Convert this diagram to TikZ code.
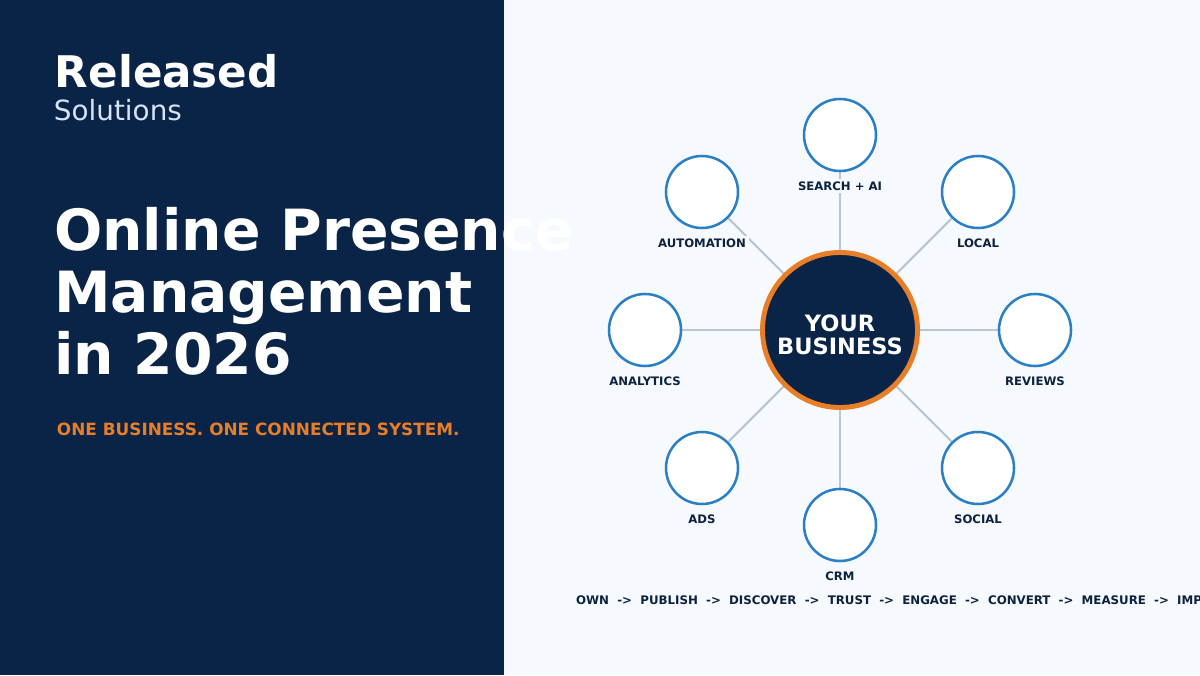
\documentclass[tikz,border=0pt]{standalone}
\usepackage{fontspec}
\setmainfont{DejaVu Sans}
\usepackage{tikz}
\usetikzlibrary{positioning, backgrounds}
\definecolor{navy}{RGB}{10, 36, 71}
\definecolor{orng}{RGB}{232, 126, 40}
\definecolor{ring}{RGB}{43, 127, 196}
\definecolor{spk}{RGB}{184, 199, 214}
\definecolor{page}{RGB}{246, 249, 253}
\definecolor{pale}{RGB}{214, 228, 243}
\definecolor{ink}{RGB}{13, 34, 61}
\newcommand{\flowto}{\ \ ->\ \ }

\begin{document}
\begin{tikzpicture}[
    sat/.style={circle, draw=ring, fill=white, line width=1.8pt,
      minimum size=1.8cm, inner sep=0pt},
    lbl/.style={font=\fontsize{8.3}{10}\selectfont\bfseries, text=ink,
      fill=page, inner sep=2pt},
    spoke/.style={spk, line width=1.5pt},
    hubnode/.style={circle, draw=orng, fill=navy, line width=3.5pt,
      minimum size=3.875cm, inner sep=0pt},
    hubtxt/.style={align=center, text=white, inner sep=0pt,
      font=\fontsize{16}{17}\selectfont\bfseries}
  ]
  \path[use as bounding box, clip] (0, 0) rectangle (30, 16.875);

  \node[anchor=base west, text=white, font=\fontsize{31}{34}\selectfont\bfseries]
    (brand) at (1.25, 14.675) {Released};
  \node[anchor=base west, text=pale, font=\fontsize{19.8}{22}\selectfont]
    (brandsub) at (1.225, 13.85) {Solutions};

  \node[anchor=base west, text=white, font=\fontsize{40.4}{44}\selectfont\bfseries]
    (title1) at (1.23, 10.625) {Online Presence};
  \node[anchor=base west, text=white, font=\fontsize{40.4}{44}\selectfont\bfseries]
    (title2) at (1.23, 9.075) {Management};
  \node[anchor=base west, text=white, font=\fontsize{40.4}{44}\selectfont\bfseries]
    (title3) at (1.23, 7.525) {in 2026};
  \node[anchor=base west, text=orng, font=\fontsize{12}{14}\selectfont\bfseries]
    (tag) at (1.3, 6.0) {ONE BUSINESS. ONE CONNECTED SYSTEM.};

  \node[hubnode] (hub) at (21, 8.625) {};
  \node[hubtxt] (hubtext) at ([yshift=-0.12cm]hub.center) {YOUR\\BUSINESS};

  \node[sat] (search) at (21, 13.5) {};
  \node[sat] (local) at (24.45, 12.075) {};
  \node[sat] (reviews) at (25.875, 8.625) {};
  \node[sat] (social) at (24.45, 5.175) {};
  \node[sat] (crm) at (21, 3.75) {};
  \node[sat] (ads) at (17.55, 5.175) {};
  \node[sat] (analytics) at (16.125, 8.625) {};
  \node[sat] (automation) at (17.55, 12.075) {};

  \node[lbl, below=4.5pt of search] (searchl) {SEARCH + AI};
  \node[lbl, below=4.5pt of local] (locall) {LOCAL};
  \node[lbl, below=4.5pt of reviews] (reviewsl) {REVIEWS};
  \node[lbl, below=4.5pt of social] (sociall) {SOCIAL};
  \node[lbl, below=4.5pt of crm] (crml) {CRM};
  \node[lbl, below=4.5pt of ads] (adsl) {ADS};
  \node[lbl, below=4.5pt of analytics] (analyticsl) {ANALYTICS};
  \node[lbl, below=4.5pt of automation] (automationl) {AUTOMATION};

  \node[anchor=base west, text=ink, font=\fontsize{8.4}{10}\selectfont\bfseries]
    (flow) at (14.28, 1.77)
    {OWN\flowto PUBLISH\flowto DISCOVER\flowto TRUST\flowto ENGAGE\flowto
     CONVERT\flowto MEASURE\flowto IMPROVE};

  \begin{scope}[on background layer]
    \fill[page] (0, 0) rectangle (30, 16.875);
    \fill[navy] (0, 0) rectangle (12.6, 16.875);
    \draw[spoke] (hub) -- (search);
    \draw[spoke] (hub) -- (local);
    \draw[spoke] (hub) -- (reviews);
    \draw[spoke] (hub) -- (social);
    \draw[spoke] (hub) -- (crm);
    \draw[spoke] (hub) -- (ads);
    \draw[spoke] (hub) -- (analytics);
    \draw[spoke] (hub) -- (automation);
  \end{scope}
\end{tikzpicture}
\end{document}
